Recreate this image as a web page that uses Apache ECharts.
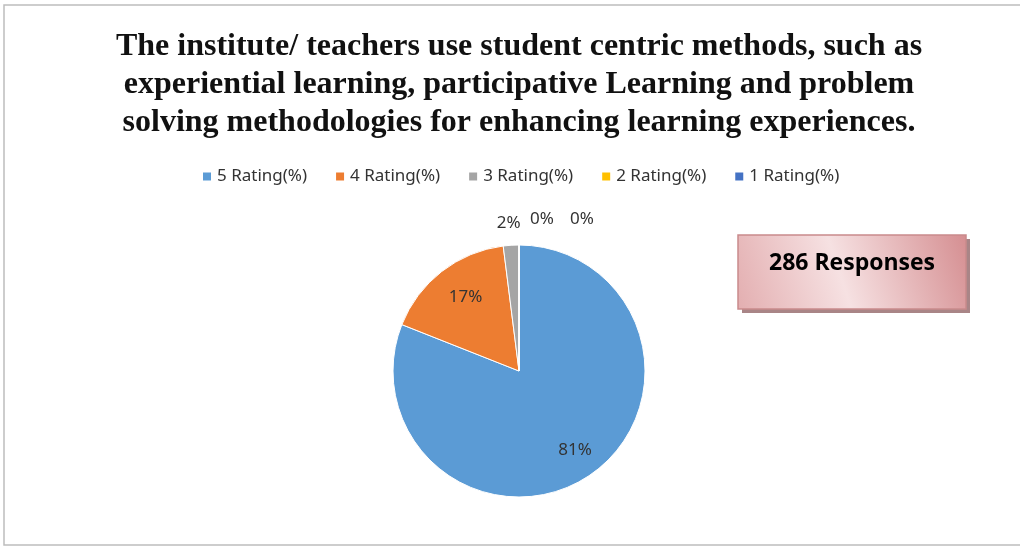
<!DOCTYPE html>
<html>
<head>
<meta charset="utf-8">
<script src="https://cdn.jsdelivr.net/npm/echarts@6/dist/echarts.min.js"></script>
<style>
  html, body { margin: 0; padding: 0; background: #fff; }
  #chart { width: 1020px; height: 547px; }
</style>
</head>
<body>
<div id="chart"></div>
<script>
// chart data
const categories = ['5 Rating(%)', '4 Rating(%)', '3 Rating(%)', '2 Rating(%)', '1 Rating(%)'];
const percentages = [81, 17, 2, 0, 0];
const sliceColors = ['#5B9BD5', '#ED7D31', '#A5A5A5', '#FFC000', '#4472C4'];
const titleLines = [
  'The institute/ teachers use student centric methods, such as',
  'experiential learning, participative Learning and problem',
  'solving methodologies for enhancing learning experiences.'
];
const responseText = '286 Responses';

// label nudges so the labels sit where the original puts them
const labelShift = [[19, 25], [-13, -22], [15, -16], [6, -20], [46, -20]];

const myChart = echarts.init(document.getElementById('chart'));

const seriesData = categories.map((name, i) => ({
  name: name,
  value: percentages[i],
  itemStyle: { color: sliceColors[i] },
  label: i < 2
    ? { position: 'inside' }
    : { position: 'outside' },
  labelLine: { show: false }
}));

const option = {
  backgroundColor: '#fff',
  animation: false,
  title: {
    text: titleLines.join('\n'),
    left: 514,
    textAlign: 'center',
    top: 23,
    textStyle: {
      fontFamily: 'Liberation Serif',
      fontWeight: 'bold',
      fontSize: 32,
      lineHeight: 38,
      color: '#111'
    }
  },
  legend: {
    top: 163,
    left: 196,
    itemWidth: 10,
    itemHeight: 10,
    itemGap: 27,
    icon: 'rect',
    textStyle: { fontFamily: 'Noto Sans', fontSize: 17, color: '#333' },
    data: categories
  },
  series: [
    {
      name: 'Rating',
      type: 'pie',
      center: [519, 371],
      radius: 126,
      startAngle: 90,
      clockwise: true,
      avoidLabelOverlap: false,
      stillShowZeroSum: true,
      data: seriesData,
      itemStyle: { borderColor: '#fff', borderWidth: 1 },
      label: {
        show: true,
        formatter: '{c}%',
        fontFamily: 'Noto Sans',
        fontSize: 17,
        color: '#333'
      },
      labelLine: { show: false, length: 6, length2: 0 },
      labelLayout: (params) => ({
        dx: labelShift[params.dataIndex][0],
        dy: labelShift[params.dataIndex][1]
      })
    }
  ],
  graphic: [
    {
      type: 'rect',
      shape: { x: 4, y: 5, width: 1030, height: 540 },
      style: { fill: 'none', stroke: '#bdbdbd', lineWidth: 1.5 },
      silent: true,
      z: -1
    },
    {
      type: 'rect',
      shape: { x: 742, y: 239, width: 228, height: 74 },
      style: { fill: '#a98587' },
      silent: true
    },
    {
      type: 'rect',
      shape: { x: 738, y: 235, width: 228, height: 74 },
      style: {
        fill: new echarts.graphic.LinearGradient(0, 1, 1, 0, [
          { offset: 0, color: '#e3aeb0' },
          { offset: 0.45, color: '#f6e1e2' },
          { offset: 1, color: '#d58e91' }
        ]),
        stroke: '#c98a8c',
        lineWidth: 1.5
      },
      silent: true
    },
    {
      type: 'text',
      x: 852,
      y: 263,
      style: {
        text: responseText,
        fontFamily: 'Open Sans',
        fontWeight: 'bold',
        fontSize: 23,
        fill: '#000',
        align: 'center',
        verticalAlign: 'middle'
      },
      silent: true
    }
  ]
};

myChart.setOption(option);
</script>
</body>
</html>
